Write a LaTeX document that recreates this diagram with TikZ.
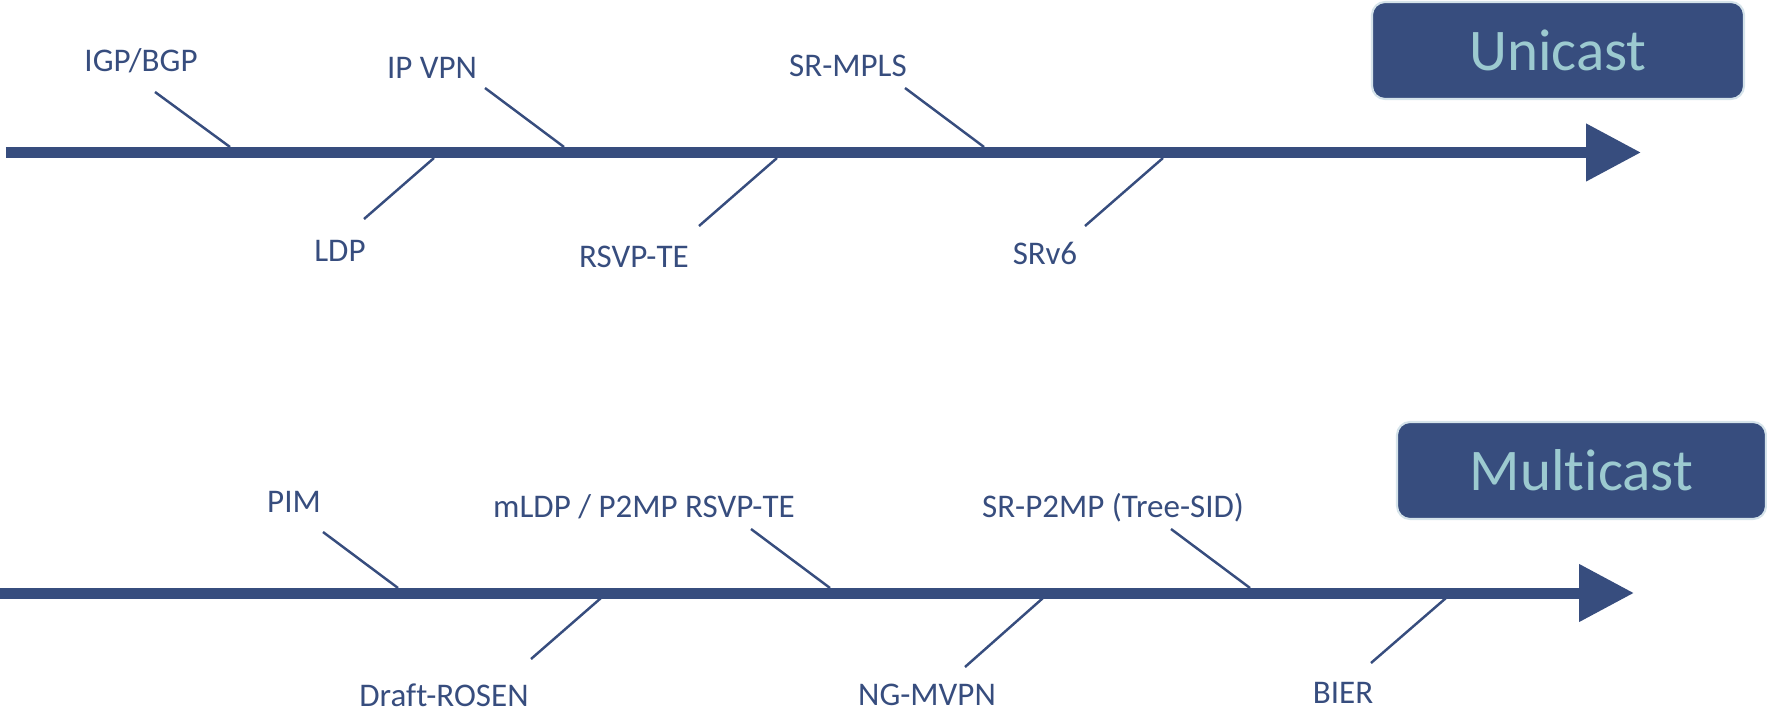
\documentclass[tikz,border=0pt]{standalone}
\usepackage{fontspec}
\setmainfont{Carlito}[Ligatures=NoCommon]
\usetikzlibrary{arrows.meta}
\definecolor{azul}{HTML}{374D7E}
\definecolor{ciano}{HTML}{9CCAD0}
\definecolor{borda}{HTML}{D5E3EA}

\begin{document}
\begin{tikzpicture}[
    rotulo/.style={text=azul, font=\fontsize{9.4}{11}\selectfont, anchor=base, inner sep=0pt},
    haste/.style={azul, line width=0.7pt},
    eixo/.style={azul, line width=0.11cm, -{Triangle[length=0.55cm, width=0.55cm]}},
    caixa/.style={fill=azul, draw=borda, line width=0.6pt, rounded corners=0.13cm,
        text=ciano, font=\fontsize{16.8}{20}\selectfont, minimum height=0.97cm}
]
    \useasboundingbox (0,0) rectangle (17.67,7.13);

    % Eixos (unicast e multicast)
    \coordinate (uIni) at (0.06,5.605);
    \coordinate (uFim) at (16.41,5.605);
    \coordinate (mIni) at (0,1.20);
    \coordinate (mFim) at (16.34,1.20);
    \draw[eixo] (uIni) -- (uFim);
    \draw[eixo] (mIni) -- (mFim);

    % Caixas de titulo
    \node[caixa, minimum width=3.72cm] (uni) at (15.58,6.625) {Unicast};
    \node[caixa, minimum width=3.69cm] (multi) at (15.815,2.425) {Multicast};

    % Rotulos unicast
    \node[rotulo] (igp) at (1.41,6.41) {IGP/BGP};
    \node[rotulo] (ipvpn) at (4.32,6.34) {IP VPN};
    \node[rotulo] (srmpls) at (8.48,6.36) {SR-MPLS};
    \node[rotulo] (ldp) at (3.40,4.51) {LDP};
    \node[rotulo] (rsvp) at (6.34,4.45) {RSVP-TE};
    \node[rotulo] (srv6) at (10.45,4.48) {SRv6};

    % Rotulos multicast
    \node[rotulo] (pim) at (2.94,2.00) {PIM};
    \node[rotulo] (mldp) at (6.44,1.95) {mLDP / P2MP RSVP-TE};
    \node[rotulo] (srp2mp) at (11.13,1.95) {SR-P2MP (Tree-SID)};
    \node[rotulo] (rosen) at (4.44,0.07) {Draft-ROSEN};
    \node[rotulo] (ngmvpn) at (9.27,0.08) {NG-MVPN};
    \node[rotulo] (bier) at (13.43,0.10) {BIER};

    % Hastes unicast
    \coordinate (igpA) at (1.55,6.21);   \coordinate (igpB) at (2.30,5.66);
    \coordinate (ipvpnA) at (4.85,6.25); \coordinate (ipvpnB) at (5.64,5.66);
    \coordinate (srmplsA) at (9.05,6.25); \coordinate (srmplsB) at (9.84,5.66);
    \coordinate (ldpA) at (4.34,5.55);   \coordinate (ldpB) at (3.64,4.94);
    \coordinate (rsvpA) at (7.77,5.55);  \coordinate (rsvpB) at (6.99,4.87);
    \coordinate (srv6A) at (11.63,5.55); \coordinate (srv6B) at (10.85,4.87);
    \draw[haste] (igpA) -- (igpB);
    \draw[haste] (ipvpnA) -- (ipvpnB);
    \draw[haste] (srmplsA) -- (srmplsB);
    \draw[haste] (ldpA) -- (ldpB);
    \draw[haste] (rsvpA) -- (rsvpB);
    \draw[haste] (srv6A) -- (srv6B);

    % Hastes multicast
    \coordinate (pimA) at (3.23,1.81);    \coordinate (pimB) at (3.98,1.25);
    \coordinate (mldpA) at (7.51,1.84);   \coordinate (mldpB) at (8.30,1.25);
    \coordinate (srp2mpA) at (11.71,1.84); \coordinate (srp2mpB) at (12.50,1.25);
    \coordinate (rosenA) at (6.01,1.15);  \coordinate (rosenB) at (5.31,0.54);
    \coordinate (ngmvpnA) at (10.43,1.15); \coordinate (ngmvpnB) at (9.65,0.46);
    \coordinate (bierA) at (14.46,1.15);  \coordinate (bierB) at (13.71,0.50);
    \draw[haste] (pimA) -- (pimB);
    \draw[haste] (mldpA) -- (mldpB);
    \draw[haste] (srp2mpA) -- (srp2mpB);
    \draw[haste] (rosenA) -- (rosenB);
    \draw[haste] (ngmvpnA) -- (ngmvpnB);
    \draw[haste] (bierA) -- (bierB);
\end{tikzpicture}
\end{document}
